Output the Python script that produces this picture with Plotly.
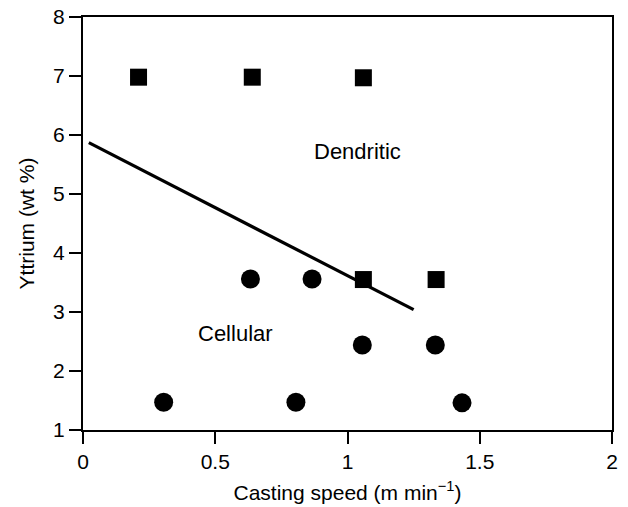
import plotly.graph_objects as go

# Dendritic (square) observations
dendritic_speed = [0.21, 0.64, 1.06, 1.06, 1.335]
dendritic_yttrium = [6.98, 6.98, 6.97, 3.55, 3.55]

# Cellular (circle) observations
cellular_speed = [0.633, 0.866, 0.305, 0.805, 1.056, 1.332, 1.433]
cellular_yttrium = [3.56, 3.56, 1.47, 1.47, 2.44, 2.44, 1.46]

# Cellular/dendritic transition line
boundary_speed = [0.022, 1.25]
boundary_yttrium = [5.87, 3.04]

FONT = "Liberation Sans, Arial, sans-serif"

fig = go.Figure()
fig.add_trace(go.Scatter(
    x=boundary_speed, y=boundary_yttrium, mode="lines",
    line=dict(color="black", width=3.2), showlegend=False, hoverinfo="skip"))
fig.add_trace(go.Scatter(
    x=dendritic_speed, y=dendritic_yttrium, mode="markers",
    marker=dict(symbol="square", size=17, color="black", line=dict(width=0)),
    showlegend=False))
fig.add_trace(go.Scatter(
    x=cellular_speed, y=cellular_yttrium, mode="markers",
    marker=dict(symbol="circle", size=19, color="black", line=dict(width=0)),
    showlegend=False))

fig.add_annotation(x=1.039, y=5.72, text="Dendritic", showarrow=False,
                   font=dict(size=22, color="black", family=FONT))
fig.add_annotation(x=0.578, y=2.64, text="Cellular", showarrow=False,
                   font=dict(size=22, color="black", family=FONT))

fig.update_layout(
    width=628, height=507,
    margin=dict(l=83, r=16, t=17, b=77),
    paper_bgcolor="white", plot_bgcolor="white",
    font=dict(family=FONT, size=21, color="black"),
)
fig.update_xaxes(
    range=[0, 2], tickvals=[0, 0.5, 1, 1.5, 2], ticktext=["0", "0.5", "1", "1.5", "2"],
    showgrid=False, zeroline=False, showline=True, linecolor="black", linewidth=2,
    mirror=True, ticks="outside", ticklen=12, tickwidth=2, tickcolor="black",
    tickfont=dict(size=21), automargin=False,
    title=dict(text="Casting speed (m min<sup>−1</sup>)", font=dict(size=21), standoff=13),
)
fig.update_yaxes(
    range=[1, 8], tickvals=[1, 2, 3, 4, 5, 6, 7, 8],
    showgrid=False, zeroline=False, showline=True, linecolor="black", linewidth=2,
    mirror=True, ticks="outside", ticklen=12, tickwidth=2, tickcolor="black",
    tickfont=dict(size=21), automargin=False,
    title=dict(text="Yttrium (wt %)", font=dict(size=21), standoff=13),
)

fig.write_html("out.html")
